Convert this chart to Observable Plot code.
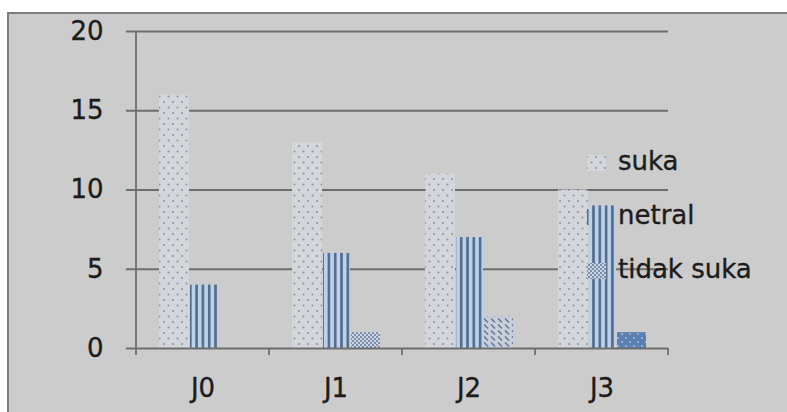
<!DOCTYPE html>
<html><head><meta charset="utf-8">
<script src="https://cdn.jsdelivr.net/npm/d3@7"></script>
<script src="https://cdn.jsdelivr.net/npm/@observablehq/plot@0.6"></script>
<style>
body{margin:0;background:#fff;width:787px;height:412px;overflow:hidden;position:relative;font-family:"DejaVu Sans",sans-serif}
#panel{position:absolute;left:7px;top:12px;width:800px;height:410px;background:#cccccc;border-left:2px solid #7d7d7d;border-top:2px solid #7d7d7d}
#chart{position:absolute;left:0;top:0}
#legend{position:absolute;left:0;top:0}
#chart text, #legend text{stroke:#1c1c1c;stroke-width:0.35px}
</style></head><body>
<svg width="0" height="0" style="position:absolute">
<defs>
<pattern id="p-suka" patternUnits="userSpaceOnUse" width="9" height="11">
<rect width="9" height="11" fill="#d3d6db"/>
<circle cx="2" cy="3" r="1" fill="#8a94a3"/>
<circle cx="6.5" cy="8.5" r="1" fill="#8a94a3"/>
</pattern>
<pattern id="p-netral" patternUnits="userSpaceOnUse" width="6.3" height="10">
<rect width="6.3" height="10" fill="#bcd2ea"/>
<rect x="0" width="2.6" height="10" fill="#566b8a"/>
</pattern>
<pattern id="p-ts1" patternUnits="userSpaceOnUse" width="4" height="4">
<rect width="4" height="4" fill="#cdd5e0"/>
<rect x="0" y="0" width="2" height="2" fill="#7a8dab"/>
<rect x="2" y="2" width="2" height="2" fill="#7a8dab"/>
</pattern>
<pattern id="p-ts2" patternUnits="userSpaceOnUse" width="7" height="6">
<rect width="7" height="6" fill="#c8cfd9"/>
<line x1="1" y1="0.5" x2="5" y2="4.5" stroke="#66799a" stroke-width="1.6"/>
</pattern>
<pattern id="p-ts3" patternUnits="userSpaceOnUse" width="8" height="8">
<rect width="8" height="8" fill="#5b7fb3"/>
<circle cx="2" cy="2" r="1" fill="#a9c0de"/>
<circle cx="6" cy="6" r="1" fill="#a9c0de"/>
</pattern>
</defs>
</svg>
<div id="panel"></div><div id="chart"></div>
<svg id="legend" width="787" height="412"></svg>
<script>
const categories = ["J0", "J1", "J2", "J3"];
const series = ["suka", "netral", "tidak suka"];
const suka = [16, 13, 11, 10];
const netral = [4, 6, 7, 9];
const tidakSuka = [0, 1, 2, 1];
const yTicks = [0, 5, 10, 15, 20];

const rows = categories.flatMap((c, i) => [
  {category: c, series: "suka", value: suka[i]},
  {category: c, series: "netral", value: netral[i]},
  {category: c, series: "tidak suka", value: tidakSuka[i]}
]);
const tsFill = {J0: "url(#p-ts1)", J1: "url(#p-ts1)", J2: "url(#p-ts2)", J3: "url(#p-ts3)"};
const seriesFill = {"suka": "url(#p-suka)", "netral": "url(#p-netral)", "tidak suka": "url(#p-ts1)"};
const lineColor = "#6e6e6e";

const plot = Plot.plot({
  width: 787, height: 412,
  marginLeft: 135, marginRight: 119, marginTop: 31, marginBottom: 64,
  style: {background: "transparent", fontFamily: "DejaVu Sans, sans-serif", color: "#1c1c1c", overflow: "visible"},
  x: {domain: categories, padding: 0, label: null},
  y: {domain: [0, 20], label: null},
  color: {type: "identity"},
  marks: [
    Plot.ruleY(yTicks.filter(v => v > 0), {y: d => d, stroke: lineColor, strokeWidth: 1.8, insetLeft: -9}),
    Plot.barY(rows.filter(d => d.series === "suka"), {x: "category", y: "value", fill: seriesFill["suka"], insetLeft: 23, insetRight: 80}),
    Plot.barY(rows.filter(d => d.series === "netral"), {x: "category", y: "value", fill: seriesFill["netral"], insetLeft: 54, insetRight: 52}),
    Plot.barY(rows.filter(d => d.series === "tidak suka" && d.value > 0), {x: "category", y: "value", fill: d => tsFill[d.category], insetLeft: 82, insetRight: 22}),
    Plot.ruleY([0], {stroke: lineColor, strokeWidth: 1.8, insetLeft: -9}),
    Plot.axisY({ticks: yTicks, tickSize: 0, tickPadding: 32, fontSize: 26, label: null}),
    Plot.axisX({tickSize: 0, tickPadding: 30, fontSize: 26, label: null})
  ]
});
document.getElementById("chart").appendChild(plot);

// y-axis line and category boundary ticks from the scales
const xs = plot.scale("x"), ys = plot.scale("y");
const svg = d3.select(plot);
const y0 = ys.apply(0), yTop = ys.apply(20);
const bounds = categories.map(c => xs.apply(c)).concat([xs.apply(categories[categories.length - 1]) + xs.bandwidth]);
svg.append("line").attr("x1", bounds[0]).attr("x2", bounds[0]).attr("y1", yTop).attr("y2", y0 + 7)
  .attr("stroke", lineColor).attr("stroke-width", 1.8);
svg.append("g").selectAll("line").data(bounds.slice(1)).join("line")
  .attr("x1", d => d).attr("x2", d => d).attr("y1", y0).attr("y2", y0 + 7)
  .attr("stroke", lineColor).attr("stroke-width", 1.8);

// legend
const leg = d3.select("#legend");
const legBase = [170, 224, 278];
series.forEach((s, i) => {
  leg.append("rect").attr("x", 587).attr("y", legBase[i] - 15).attr("width", 19).attr("height", 16)
    .attr("fill", seriesFill[s]);
  leg.append("text").attr("x", 618).attr("y", legBase[i]).text(s)
    .attr("font-family", "DejaVu Sans, sans-serif").attr("font-size", 26).attr("fill", "#1c1c1c");
});
</script>
</body></html>
